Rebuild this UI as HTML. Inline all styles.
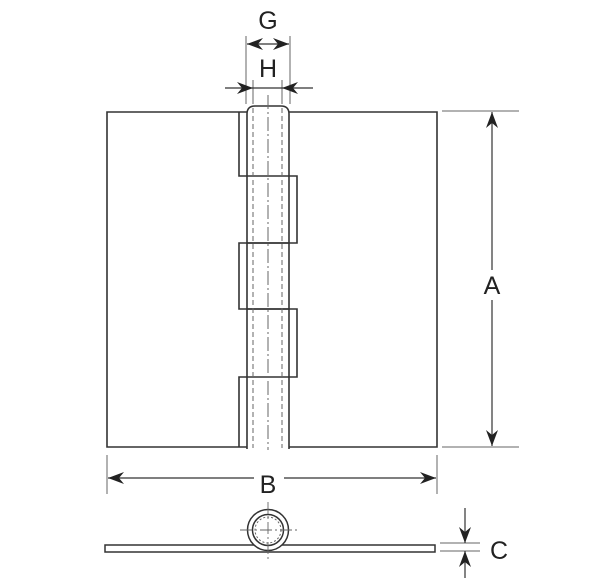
<!DOCTYPE html>
<html><head><meta charset="utf-8"><style>
html,body{margin:0;padding:0;background:#fff}
svg{display:block}
text{font-family:"Liberation Sans",sans-serif;font-size:25px;fill:#222}
</style></head><body>
<svg width="600" height="578" viewBox="0 0 600 578" xmlns="http://www.w3.org/2000/svg">
<defs>
<marker id="ar" viewBox="0 0 16 12" refX="16" refY="6" markerWidth="16" markerHeight="12" markerUnits="userSpaceOnUse" orient="auto-start-reverse">
<path d="M0,0 L16,6 L0,12 L5,6 Z" fill="#222"/>
</marker>
</defs>
<g fill="none" stroke="#333" stroke-width="1.6">
<path d="M247,112 H107 V447 H247"/>
<path d="M239,112 V176 H297 V243 H239 V309 H297 V377 H239 V447"/>
<path d="M289,112 H437 V447 H289"/>
<path d="M247,449 V114 Q247,106 255,106 H281 Q289,106 289,114 V449"/>
<line x1="247" y1="243" x2="289" y2="243"/><line x1="247" y1="309" x2="289" y2="309"/>
</g>
<g stroke="#666" stroke-width="1" fill="none">
<line x1="253" y1="108" x2="253" y2="448" stroke-dasharray="5,3"/>
<line x1="282" y1="108" x2="282" y2="448" stroke-dasharray="5,3"/>
<line x1="268" y1="95" x2="268" y2="450" stroke-dasharray="14,3,2,3"/>
<line x1="246" y1="36" x2="246" y2="104"/><line x1="290" y1="36" x2="290" y2="104"/>
<line x1="253" y1="80" x2="253" y2="104"/><line x1="282" y1="80" x2="282" y2="104"/>
<line x1="442" y1="111" x2="519" y2="111"/><line x1="442" y1="447" x2="519" y2="447"/>
<line x1="107" y1="455" x2="107" y2="494"/><line x1="437" y1="455" x2="437" y2="494"/>
<line x1="440" y1="543" x2="480" y2="543"/><line x1="440" y1="551" x2="480" y2="551"/>
</g>
<g stroke="#333" stroke-width="1.2" fill="none">
<line x1="247" y1="44" x2="289" y2="44" marker-start="url(#ar)" marker-end="url(#ar)"/>
<line x1="225" y1="88" x2="253" y2="88" marker-end="url(#ar)"/>
<line x1="313" y1="88" x2="282" y2="88" marker-end="url(#ar)"/>
<line x1="253" y1="88" x2="282" y2="88"/>
<line x1="492" y1="112" x2="492" y2="446" marker-start="url(#ar)" marker-end="url(#ar)"/>
<line x1="108" y1="478" x2="436" y2="478" marker-start="url(#ar)" marker-end="url(#ar)"/>
<line x1="465" y1="508" x2="465" y2="543" marker-end="url(#ar)"/>
<line x1="465" y1="578" x2="465" y2="551" marker-end="url(#ar)"/>
</g>
<rect x="254" y="466" width="30" height="26" fill="#fff"/>
<rect x="480" y="270" width="24" height="30" fill="#fff"/>
<g fill="#fff" stroke="#333" stroke-width="1.5">
<rect x="105" y="545" width="330" height="7"/>
<circle cx="268" cy="530" r="20.5"/>
<circle cx="268" cy="530" r="15.5"/>
</g>
<circle cx="268" cy="530" r="13" fill="none" stroke="#666" stroke-width="1" stroke-dasharray="2,2"/>
<g stroke="#666" stroke-width="0.9" stroke-dasharray="12,3,2,3">
<line x1="240" y1="530" x2="298" y2="530"/>
<line x1="268" y1="502" x2="268" y2="560"/>
</g>
<text x="268" y="29" text-anchor="middle">G</text>
<text x="268" y="77" text-anchor="middle">H</text>
<text x="492" y="294" text-anchor="middle">A</text>
<text x="268" y="493" text-anchor="middle">B</text>
<text x="499" y="559" text-anchor="middle">C</text>
</svg>
</body></html>
